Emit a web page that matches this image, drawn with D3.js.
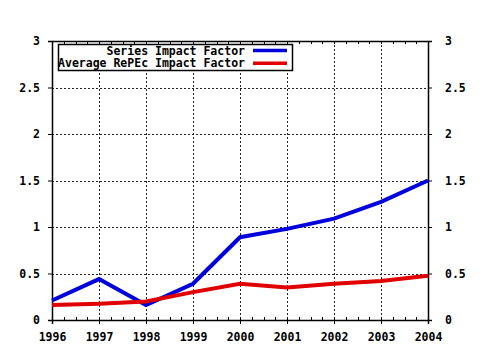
<!DOCTYPE html>
<html><head><meta charset="utf-8">
<script src="https://cdn.jsdelivr.net/npm/d3@7"></script>
<style>body{margin:0;background:#fff}svg{display:block}text{font-family:"DejaVu Sans Mono",monospace;font-weight:bold;font-size:11.5px;fill:#000}</style>
</head><body><svg id="c" width="480" height="350"></svg>
<script>
const years = [1996,1997,1998,1999,2000,2001,2002,2003,2004];
const seriesIF = [0.21,0.44,0.16,0.39,0.89,0.98,1.09,1.27,1.50];
const repecIF = [0.16,0.175,0.20,0.30,0.39,0.35,0.39,0.42,0.475];
const yTicks = [0,0.5,1,1.5,2,2.5,3];
const yTickLabels = ["0","0.5","1","1.5","2","2.5","3"];
const seriesNames = ["Series Impact Factor","Average RePEc Impact Factor"];
const seriesColors = ["#0000dd","#e00000"];

const svg = d3.select("#c");
const L=52,R=428,T=41,B=320;
const x = d3.scaleLinear().domain([1996,2004]).range([L,R]);
const y = d3.scaleLinear().domain([0,3]).range([B,T]);

// grid
const g = svg.append("g");
g.selectAll(".vg").data(years.slice(1,-1)).join("line")
 .attr("x1",d=>Math.round(x(d))+0.5).attr("x2",d=>Math.round(x(d))+0.5).attr("y1",T).attr("y2",B)
 .attr("stroke","#222").attr("stroke-width",1).attr("stroke-dasharray","2,2");
g.selectAll(".hg").data(yTicks.slice(1,-1)).join("line")
 .attr("y1",d=>Math.round(y(d))+0.5).attr("y2",d=>Math.round(y(d))+0.5).attr("x1",L).attr("x2",R)
 .attr("stroke","#222").attr("stroke-width",1).attr("stroke-dasharray","2,2");

// minor ticks top/bottom
const minor = d3.range(1996,2004.001,0.25);
svg.append("g").selectAll("line").data(minor).join("line")
 .attr("x1",d=>Math.round(x(d))+0.5).attr("x2",d=>Math.round(x(d))+0.5).attr("y1",B).attr("y2",B-3)
 .attr("stroke","#000");
svg.append("g").selectAll("line").data(minor).join("line")
 .attr("x1",d=>Math.round(x(d))+0.5).attr("x2",d=>Math.round(x(d))+0.5).attr("y1",T).attr("y2",T+3)
 .attr("stroke","#000");

// axes
const axB = d3.axisBottom(x).tickValues(years).tickFormat(d3.format("d")).tickSize(4).tickPadding(9);
const axL = d3.axisLeft(y).tickValues(yTicks).tickFormat((d,i)=>yTickLabels[i]).tickSize(4).tickPadding(8);
const axR = d3.axisRight(y).tickValues(yTicks).tickFormat((d,i)=>yTickLabels[i]).tickSize(4).tickPadding(13);
const axT = d3.axisTop(x).tickValues(years).tickFormat("").tickSize(0);
function style(sel){sel.select(".domain").attr("stroke","#000").attr("stroke-width",1.5);sel.selectAll(".tick line").attr("stroke","#000");sel.selectAll("text").attr("font-family",null).attr("font-size",null).attr("fill",null);}
svg.append("g").attr("transform",`translate(0,${B})`).call(axB).call(style);
svg.append("g").attr("transform",`translate(${L},0)`).call(axL).call(style);
svg.append("g").attr("transform",`translate(${R},0)`).call(axR).call(style);
svg.append("g").attr("transform",`translate(0,${T})`).call(axT).call(style);

// lines
const line = d3.line().x((d,i)=>x(years[i])).y(d=>y(d));
[seriesIF,repecIF].forEach((s,k)=>{
 svg.append("path").datum(s).attr("d",line).attr("fill","none").attr("stroke",seriesColors[k]).attr("stroke-width",4).attr("stroke-linejoin","miter");
});

// legend
const lg = svg.append("g");
lg.append("rect").attr("x",58.5).attr("y",44.5).attr("width",234).attr("height",26).attr("fill","#fff").attr("stroke","#000").attr("stroke-width",1.5);
seriesNames.forEach((n,i)=>{
 const yy = 50.5 + i*12.7;
 lg.append("text").attr("x",245).attr("y",yy).attr("dy","0.35em").attr("text-anchor","end").text(n);
 lg.append("line").attr("x1",253).attr("x2",287).attr("y1",yy).attr("y2",yy).attr("stroke",seriesColors[i]).attr("stroke-width",3.5);
});
</script></body></html>
